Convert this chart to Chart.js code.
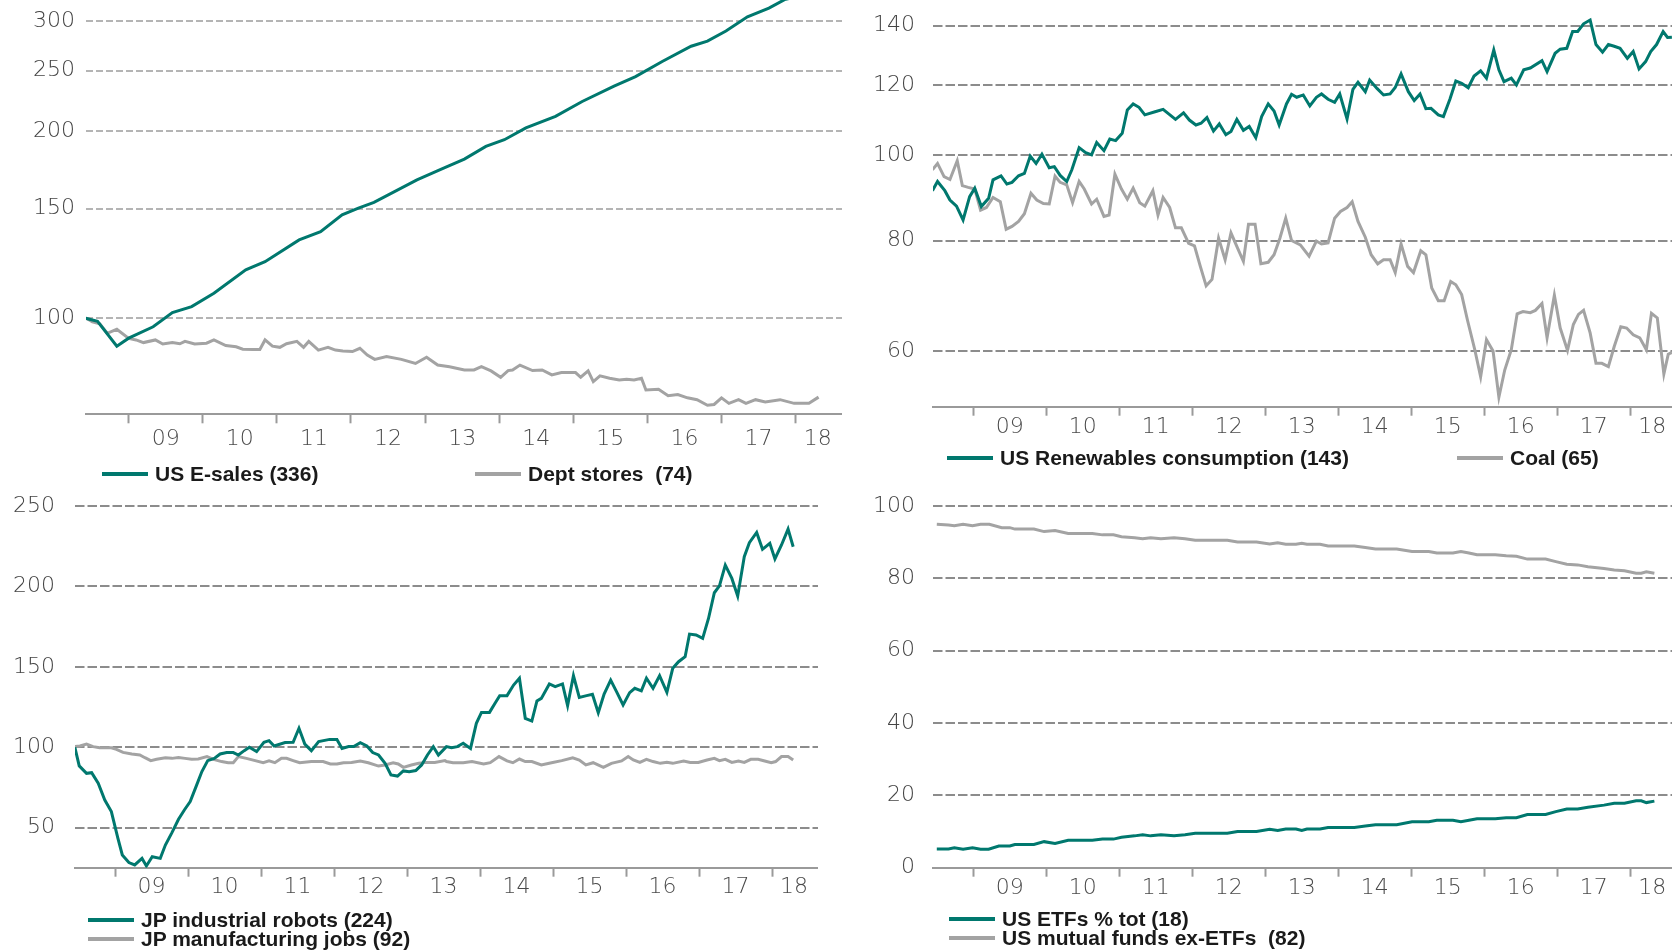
<!DOCTYPE html>
<html>
<head>
<meta charset="utf-8">
<script src="https://cdn.jsdelivr.net/npm/chart.js@4.4.0/dist/chart.umd.min.js"></script>
<style>
html, body { margin: 0; padding: 0; background: #fff; width: 1672px; height: 950px; overflow: hidden; }
canvas { position: absolute; }
.legend { position: absolute; font: bold 21px "Liberation Sans", Arial, sans-serif; color: #1a1a1a; white-space: pre; }
.legend .item { display: flex; align-items: center; height: 19px; }
.legend .swatch { display: inline-block; width: 46px; height: 4px; margin-right: 7px; }
.row { display: flex; }
#l1 .item:first-child { width: 373px; }
#l2 .item:first-child { width: 510px; }
</style>
</head>
<body>
<canvas id="c1" width="842" height="460" style="left:0;top:0"></canvas>
<canvas id="c2" width="844" height="450" style="left:846px;top:0"></canvas>
<canvas id="c3" width="818" height="430" style="left:0;top:480px"></canvas>
<canvas id="c4" width="844" height="430" style="left:846px;top:480px"></canvas>
<div class="legend row" id="l1" style="left:102px;top:464px"></div>
<div class="legend row" id="l2" style="left:947px;top:448px"></div>
<div class="legend" id="l3" style="left:88px;top:910px"></div>
<div class="legend" id="l4" style="left:949px;top:909px"></div>
<script>
const teal = "#00786e";
const grey = "#a3a3a3";

// x axis: year boundaries get a tick mark, labels sit in the middle of each year
const yearMarks = [2009, 2010, 2011, 2012, 2013, 2014, 2015, 2016, 2017, 2018];
const labelAt = [2009.5, 2010.5, 2011.5, 2012.5, 2013.5, 2014.5, 2015.5, 2016.5, 2017.5, 2018.3];
const yearLabels = ["09", "10", "11", "12", "13", "14", "15", "16", "17", "18"];

// [date in years, value]
const eSales = [[2008.42,100],[2008.58,98.9],[2008.84,90.2],[2009.00,92.9],[2009.33,96.9],[2009.59,102.1],[2009.85,104.4],
  [2010.15,109.7],[2010.58,119.6],[2010.84,123.3],[2011.30,133.6],[2011.59,137.8],[2011.88,146.6],[2012.10,150.3],
  [2012.31,153.5],[2012.89,166.9],[2013.25,174.2],[2013.53,180.2],[2013.82,188.9],[2014.07,193.6],[2014.36,202.3],
  [2014.76,211],[2015.12,223],[2015.55,236],[2015.84,244.5],[2016.20,258.6],[2016.59,273.6],[2016.81,278.8],
  [2017.06,289.4],[2017.35,305],[2017.64,315],[2017.85,325],[2018.33,336]];
const deptStores = [[2008.43,100],[2008.51,98.7],[2008.61,98],[2008.71,94.6],[2008.84,96],[2009.00,92.8],[2009.10,92.3],
  [2009.20,91.4],[2009.36,92.3],[2009.46,90.9],[2009.59,91.4],[2009.69,91],[2009.76,91.8],[2009.89,90.9],[2010.05,91.2],
  [2010.15,92.3],[2010.31,90.4],[2010.45,90],[2010.54,89.2],[2010.68,89.1],[2010.77,89.1],[2010.84,92.3],[2010.94,90.2],
  [2011.04,89.8],[2011.13,91],[2011.27,91.8],[2011.36,89.8],[2011.43,91.8],[2011.56,88.9],[2011.69,89.8],[2011.79,88.9],
  [2011.89,88.6],[2012.02,88.4],[2012.12,89.5],[2012.22,87.3],[2012.32,85.9],[2012.48,86.8],[2012.68,85.9],[2012.87,84.6],
  [2013.02,86.6],[2013.17,84.1],[2013.33,83.6],[2013.53,82.6],[2013.66,82.6],[2013.76,83.6],[2013.89,82.3],[2014.02,80.4],
  [2014.12,82.4],[2014.18,82.6],[2014.28,84.1],[2014.45,82.4],[2014.58,82.6],[2014.71,81.1],[2014.84,81.8],[2015.03,81.8],
  [2015.10,80.4],[2015.20,82.3],[2015.27,79.1],[2015.36,80.8],[2015.49,80.1],[2015.62,79.6],[2015.72,79.8],[2015.82,79.6],
  [2015.92,80.1],[2015.98,76.7],[2016.15,76.9],[2016.28,75.1],[2016.41,75.4],[2016.54,74.5],[2016.67,74],[2016.81,72.5],
  [2016.90,72.7],[2017.00,74.5],[2017.10,73],[2017.23,74],[2017.33,73],[2017.46,74],[2017.59,73.4],[2017.79,74],
  [2017.98,73],[2018.18,73],[2018.31,74.7]];

const renewables = [[2008.44,91.1],[2008.51,93.3],[2008.61,91.1],[2008.68,88.9],[2008.77,87.5],[2008.86,84.4],[2008.95,89.7],
  [2009.02,91.7],[2009.11,87.4],[2009.21,89.3],[2009.27,93.7],[2009.38,94.7],[2009.46,92.7],[2009.53,93.1],[2009.62,94.7],
  [2009.70,95.3],[2009.78,99.7],[2009.86,97.8],[2009.94,100.2],[2010.04,96.7],[2010.11,97.0],[2010.19,94.8],[2010.28,93.3],
  [2010.35,96.2],[2010.45,101.9],[2010.54,100.6],[2010.62,100],[2010.69,103.3],[2010.79,101.1],[2010.87,104.2],[2010.95,103.8],
  [2011.04,105.8],[2011.11,112.4],[2011.19,114.2],[2011.27,113.2],[2011.35,111.0],[2011.49,111.9],[2011.60,112.6],[2011.77,109.7],
  [2011.88,111.6],[2011.96,109.5],[2012.05,108.1],[2012.12,108.6],[2012.20,110.2],[2012.29,106.4],[2012.37,108.4],[2012.46,105.4],
  [2012.53,106.3],[2012.61,109.7],[2012.70,106.6],[2012.78,107.7],[2012.87,104.6],[2012.95,110.5],[2013.04,114.2],[2013.12,112.1],
  [2013.19,108.1],[2013.29,114.2],[2013.36,117.1],[2013.43,116.2],[2013.52,116.9],[2013.61,113.6],[2013.70,116.2],[2013.77,117.2],
  [2013.86,115.6],[2013.95,114.7],[2014.02,117.2],[2014.12,109.8],[2014.20,118.6],[2014.27,120.8],[2014.37,117.9],[2014.43,121.5],
  [2014.53,118.9],[2014.62,116.9],[2014.71,117.2],[2014.78,119.2],[2014.86,123.5],[2014.96,117.9],[2015.04,115.2],[2015.12,117.2],
  [2015.20,112.8],[2015.27,112.9],[2015.37,111.0],[2015.44,110.5],[2015.53,115.7],[2015.61,121.2],[2015.69,120.5],[2015.78,119.1],
  [2015.86,122.8],[2015.95,124.5],[2016.03,122.1],[2016.13,131.4],[2016.20,124.8],[2016.27,121.0],[2016.37,122.1],[2016.44,120.0],
  [2016.54,124.8],[2016.63,125.4],[2016.79,127.8],[2016.86,124.2],[2016.97,130.3],[2017.04,131.7],[2017.13,132.0],[2017.21,137.9],
  [2017.28,137.9],[2017.36,140.7],[2017.45,142.1],[2017.53,133.3],[2017.62,130.7],[2017.70,133.3],[2017.78,132.7],[2017.86,132.0],
  [2017.96,128.6],[2018.04,130.9],[2018.12,125.1],[2018.21,127.5],[2018.28,130.9],[2018.36,133.3],[2018.45,137.9],[2018.51,135.8],
  [2018.57,135.9]];
const coal = [[2008.44,96.2],[2008.51,97.8],[2008.60,94.5],[2008.68,93.8],[2008.78,98.5],[2008.85,92.3],[2008.93,91.9],
  [2009.02,91.5],[2009.10,86.6],[2009.18,87.2],[2009.27,89.5],[2009.37,88.5],[2009.45,82.4],[2009.53,83.0],[2009.62,84.1],
  [2009.70,85.8],[2009.79,90.5],[2009.87,88.9],[2009.96,88.1],[2010.04,88.0],[2010.12,94.6],[2010.19,93.1],[2010.28,92.5],
  [2010.36,88.3],[2010.45,93.3],[2010.52,91.5],[2010.62,88.0],[2010.69,89.1],[2010.79,85.2],[2010.86,85.5],[2010.94,95.1],
  [2011.03,91.5],[2011.11,89.1],[2011.19,91.7],[2011.28,88.3],[2011.35,87.5],[2011.46,91.1],[2011.53,85.5],[2011.60,89.5],
  [2011.69,87.2],[2011.77,82.7],[2011.85,82.7],[2011.95,79.4],[2012.03,78.9],[2012.11,74.8],[2012.19,71.1],[2012.27,72.3],
  [2012.36,80.5],[2012.45,76.1],[2012.53,81.6],[2012.61,78.8],[2012.70,75.8],[2012.77,83.5],[2012.86,83.5],[2012.94,75.3],
  [2013.04,75.6],[2013.12,77.1],[2013.20,80.5],[2013.28,84.8],[2013.36,80.0],[2013.48,79.1],[2013.60,76.8],[2013.70,79.9],
  [2013.77,79.3],[2013.86,79.5],[2013.95,84.8],[2014.03,86.3],[2014.12,87.2],[2014.19,88.5],[2014.27,84.1],[2014.37,80.7],
  [2014.45,77.1],[2014.54,75.3],[2014.62,76.1],[2014.71,76.1],[2014.78,73.6],[2014.86,79.3],[2014.95,74.8],[2015.03,73.6],
  [2015.13,77.9],[2015.20,77.1],[2015.28,70.7],[2015.37,68.4],[2015.45,68.4],[2015.54,71.9],[2015.61,71.3],[2015.69,69.5],
  [2015.77,65.0],[2015.87,60.2],[2015.95,56.1],[2016.03,61.8],[2016.12,60.0],[2016.20,53.2],[2016.28,57.1],[2016.37,60.2],
  [2016.45,66.1],[2016.53,66.5],[2016.63,66.3],[2016.70,66.7],[2016.79,67.9],[2016.86,62.1],[2016.96,69.4],[2017.04,63.7],
  [2017.14,60.1],[2017.22,64.3],[2017.29,66.0],[2017.36,66.7],[2017.45,62.9],[2017.53,58.1],[2017.61,58.1],[2017.70,57.6],
  [2017.78,60.7],[2017.87,63.9],[2017.95,63.7],[2018.04,62.6],[2018.13,62.1],[2018.22,60.2],[2018.29,66.2],[2018.37,65.4],
  [2018.46,56.5],[2018.52,59.5],[2018.57,59.8]];

const robots = [[2008.45,100.0],[2008.51,88.4],[2008.61,83.8],[2008.68,84.2],[2008.77,77.6],[2008.86,67.2],[2008.95,60.0],
  [2009.04,43.4],[2009.10,33.0],[2009.19,28.3],[2009.27,26.8],[2009.37,30.9],[2009.43,26.2],[2009.51,31.9],[2009.62,30.9],
  [2009.69,39.2],[2009.78,46.9],[2009.87,55.2],[2009.95,61.0],[2010.03,66.2],[2010.11,75.5],[2010.19,84.9],[2010.27,91.7],
  [2010.36,93.1],[2010.44,95.8],[2010.53,96.7],[2010.62,96.7],[2010.69,95.2],[2010.77,97.9],[2010.84,100.0],[2010.94,97.3],
  [2011.04,103.1],[2011.11,104.1],[2011.18,100.8],[2011.33,102.9],[2011.44,103.1],[2011.52,111.8],[2011.60,102.0],[2011.69,97.9],
  [2011.79,103.5],[2011.94,104.9],[2012.04,104.9],[2012.11,99.3],[2012.20,100.4],[2012.27,100.4],[2012.36,102.9],[2012.45,100.8],
  [2012.53,96.7],[2012.61,95.2],[2012.70,90.0],[2012.78,82.8],[2012.87,82.1],[2012.95,85.3],[2013.03,84.8],[2013.12,85.5],
  [2013.20,89.0],[2013.28,95.2],[2013.36,100.4],[2013.43,95.2],[2013.54,100.4],[2013.61,99.7],[2013.69,100.4],[2013.77,102.5],
  [2013.87,99.3],[2013.95,114.9],[2014.02,121.7],[2014.13,121.7],[2014.21,127.7],[2014.27,132.1],[2014.37,132.1],[2014.46,138.7],
  [2014.54,142.9],[2014.62,118.0],[2014.71,116.3],[2014.78,128.8],[2014.84,130.4],[2014.95,139.4],[2015.03,137.7],[2015.13,139.4],
  [2015.20,125.9],[2015.28,144.5],[2015.36,131.0],[2015.46,132.1],[2015.54,132.9],[2015.62,121.5],[2015.70,133.1],[2015.79,141.8],
  [2015.87,134.6],[2015.96,126.3],[2016.05,134.0],[2016.12,136.7],[2016.21,135.1],[2016.28,142.9],[2016.37,136.7],[2016.46,144.5],
  [2016.56,134.2],[2016.64,149.1],[2016.72,153.2],[2016.81,156.3],[2016.87,170.4],[2016.96,169.8],[2017.05,167.7],[2017.13,180.1],
  [2017.21,196.1],[2017.28,200.4],[2017.36,213.3],[2017.45,205.0],[2017.53,194.0],[2017.62,218.5],[2017.69,227.2],[2017.79,233.6],
  [2017.87,223.1],[2017.97,226.8],[2018.04,217.1],[2018.13,225.8],[2018.22,235.7],[2018.29,224.7]];
const mfgJobs = [[2008.45,100.4],[2008.52,100.8],[2008.61,102.0],[2008.70,100.4],[2008.79,99.7],[2008.95,99.7],[2009.02,98.7],
  [2009.11,96.8],[2009.23,95.8],[2009.34,95.2],[2009.41,93.5],[2009.49,91.7],[2009.57,92.5],[2009.69,93.5],[2009.78,93.1],
  [2009.87,93.7],[2009.96,93.1],[2010.05,92.5],[2010.14,92.7],[2010.26,94.2],[2010.35,92.5],[2010.46,91.1],[2010.55,90.4],
  [2010.62,90.4],[2010.69,94.2],[2010.80,93.1],[2010.92,91.7],[2011.03,90.4],[2011.11,91.5],[2011.19,90.4],[2011.28,93.1],
  [2011.35,93.1],[2011.44,91.7],[2011.53,90.4],[2011.69,91.1],[2011.85,91.1],[2011.95,89.6],[2012.04,89.6],[2012.13,90.4],
  [2012.24,90.6],[2012.36,91.5],[2012.47,90.4],[2012.61,88.3],[2012.70,89.0],[2012.81,90.4],[2012.88,89.6],[2012.95,87.5],
  [2013.06,89.0],[2013.16,90.0],[2013.27,90.6],[2013.38,90.6],[2013.52,91.7],[2013.54,91.1],[2013.63,90.4],[2013.77,90.4],
  [2013.89,91.1],[2014.05,89.6],[2014.14,90.4],[2014.26,94.2],[2014.37,91.5],[2014.45,90.4],[2014.54,92.7],[2014.62,91.1],
  [2014.71,91.1],[2014.84,89.0],[2014.98,90.4],[2015.12,91.7],[2015.27,93.5],[2015.36,92.1],[2015.45,89.0],[2015.55,90.4],
  [2015.69,87.5],[2015.80,90.0],[2015.94,91.5],[2016.03,94.2],[2016.10,92.1],[2016.19,90.6],[2016.28,92.5],[2016.37,91.1],
  [2016.47,90.0],[2016.56,90.6],[2016.64,90.0],[2016.79,91.5],[2016.88,90.6],[2016.99,90.6],[2017.11,92.1],[2017.21,93.1],
  [2017.28,91.7],[2017.36,92.5],[2017.45,90.6],[2017.54,91.5],[2017.62,90.6],[2017.71,92.5],[2017.81,92.5],[2017.90,91.5],
  [2017.99,90.4],[2018.05,91.1],[2018.13,94.2],[2018.22,94.2],[2018.29,92.1]];

const etfShare = [[2008.50,5.2],[2008.66,5.2],[2008.74,5.5],[2008.86,5.1],[2008.99,5.5],[2009.10,5.1],[2009.21,5.1],
  [2009.35,6.0],[2009.50,6.0],[2009.57,6.4],[2009.83,6.4],[2009.97,7.2],[2010.12,6.7],[2010.30,7.6],[2010.63,7.6],
  [2010.77,7.9],[2010.92,7.9],[2011.03,8.4],[2011.21,8.8],[2011.32,9.1],[2011.43,8.8],[2011.57,9.1],[2011.75,8.8],
  [2011.90,9.1],[2012.04,9.5],[2012.48,9.5],[2012.62,10.0],[2012.88,10.0],[2013.06,10.6],[2013.17,10.3],[2013.28,10.7],
  [2013.42,10.7],[2013.50,10.3],[2013.57,10.7],[2013.75,10.7],[2013.86,11.1],[2014.22,11.1],[2014.37,11.5],[2014.51,11.9],
  [2014.80,11.9],[2015.01,12.7],[2015.24,12.7],[2015.35,13.1],[2015.57,13.1],[2015.68,12.7],[2015.79,13.1],[2015.90,13.5],
  [2016.15,13.5],[2016.30,13.8],[2016.44,13.8],[2016.59,14.7],[2016.84,14.7],[2016.98,15.5],[2017.13,16.2],[2017.28,16.2],
  [2017.42,16.7],[2017.64,17.3],[2017.78,17.8],[2017.92,17.8],[2018.08,18.5],[2018.15,18.5],[2018.22,18.0],[2018.33,18.4]];
const mutualFunds = [[2008.50,94.9],[2008.66,94.7],[2008.74,94.5],[2008.86,94.9],[2008.99,94.5],[2009.10,94.9],[2009.22,94.9],
  [2009.39,94.0],[2009.50,94.0],[2009.57,93.6],[2009.83,93.6],[2009.97,92.9],[2010.12,93.2],[2010.30,92.4],[2010.63,92.4],
  [2010.77,92.0],[2010.92,92.0],[2011.03,91.5],[2011.21,91.2],[2011.32,90.9],[2011.43,91.2],[2011.57,90.9],[2011.75,91.2],
  [2011.90,90.9],[2012.04,90.5],[2012.48,90.5],[2012.62,90.0],[2012.88,90.0],[2013.06,89.5],[2013.17,89.8],[2013.28,89.4],
  [2013.42,89.4],[2013.50,89.7],[2013.57,89.4],[2013.75,89.4],[2013.86,88.9],[2014.22,88.9],[2014.37,88.5],[2014.51,88.1],
  [2014.80,88.1],[2015.01,87.4],[2015.24,87.4],[2015.35,87.0],[2015.57,87.0],[2015.68,87.4],[2015.79,87.0],[2015.90,86.5],
  [2016.15,86.5],[2016.30,86.2],[2016.44,86.1],[2016.59,85.3],[2016.84,85.3],[2016.98,84.6],[2017.13,83.9],[2017.28,83.7],
  [2017.42,83.2],[2017.64,82.7],[2017.78,82.3],[2017.92,82.1],[2018.08,81.4],[2018.15,81.4],[2018.22,81.8],[2018.33,81.4]];

const ticks1 = [100, 150, 200, 250, 300];
const ticks2 = [60, 80, 100, 120, 140];
const ticks3 = [50, 100, 150, 200, 250];
const ticks4 = [0, 20, 40, 60, 80, 100];

const tickFont = { family: "DejaVu Sans", size: 22, weight: "200", lineHeight: 1 };

function series(label, pts, color) {
  return {
    label: label,
    data: pts.map(p => ({ x: p[0], y: p[1] })),
    borderColor: color,
    backgroundColor: color,
    borderWidth: 3,
    pointRadius: 0,
    tension: 0,
    fill: false
  };
}

function makeChart(id, o) {
  return new Chart(document.getElementById(id), {
    type: "line",
    data: { datasets: o.datasets },
    options: {
      responsive: false,
      animation: false,
      events: [],
      layout: { padding: { top: o.padTop, left: 0, right: 0, bottom: 0 } },
      plugins: { legend: { display: false }, tooltip: { enabled: false } },
      scales: {
        x: {
          type: "linear",
          min: o.xMin,
          max: o.xMax,
          afterBuildTicks: ax => {
            ax.ticks = yearMarks.concat(labelAt).sort((a, b) => a - b).map(v => ({ value: v }));
          },
          afterFit: ax => {
            ax.height = o.xH;
            ax.paddingLeft = 0;
            ax.paddingRight = 0;
          },
          grid: {
            drawOnChartArea: false,
            tickLength: 9,
            tickWidth: 2,
            tickColor: ctx => (ctx.tick && yearMarks.includes(ctx.tick.value)) ? "#9a9a9a" : "rgba(0,0,0,0)"
          },
          border: { display: true, color: "#9a9a9a", width: 2 },
          ticks: {
            autoSkip: false,
            maxRotation: 0,
            padding: o.xPad,
            color: "#4a4a4a",
            font: tickFont,
            callback: v => {
              const i = labelAt.indexOf(v);
              return i < 0 ? "" : yearLabels[i];
            }
          }
        },
        y: {
          type: o.yType,
          min: o.yMin,
          max: o.yMax,
          afterBuildTicks: ax => { ax.ticks = o.yTicks.map(v => ({ value: v })); },
          afterFit: ax => {
            ax.width = o.yW;
            ax.paddingTop = 0;
            ax.paddingBottom = 0;
          },
          grid: { color: o.gridColor, lineWidth: 2, drawTicks: false },
          border: { display: false, dash: o.gridDash },
          ticks: { padding: o.yPad, color: "#444", font: tickFont, callback: v => String(v) }
        }
      }
    }
  });
}

function buildLegend(chart, el) {
  chart.data.datasets.forEach(ds => {
    const item = document.createElement("div");
    item.className = "item";
    const sw = document.createElement("span");
    sw.className = "swatch";
    sw.style.background = ds.borderColor;
    const tx = document.createElement("span");
    tx.textContent = ds.label;
    item.append(sw, tx);
    el.append(item);
  });
}

const chart1 = makeChart("c1", {
  datasets: [series("US E-sales (336)", eSales, teal), series("Dept stores  (74)", deptStores, grey)],
  xMin: 2008.424, xMax: 2018.626, yType: "logarithmic", yMin: 70.1, yMax: 324.6, yTicks: ticks1,
  padTop: 0, xH: 45.7, yW: 86, yPad: 11, xPad: 5, gridColor: "#b4b4b4", gridDash: [7, 3]
});
const chart2 = makeChart("c2", {
  datasets: [series("US Renewables consumption (143)", renewables, teal), series("Coal (65)", coal, grey)],
  xMin: 2008.448, xMax: 2018.818, yType: "logarithmic", yMin: 51.9, yMax: 149.7, yTicks: ticks2,
  padTop: 0, xH: 43.3, yW: 87, yPad: 18, xPad: 1, gridColor: "#8c8c8c", gridDash: [9.5, 3]
});
const chart3 = makeChart("c3", {
  datasets: [series("JP industrial robots (224)", robots, teal), series("JP manufacturing jobs (92)", mfgJobs, grey)],
  xMin: 2008.452, xMax: 2018.63, yType: "linear", yMin: 25.1, yMax: 260, yTicks: ticks3,
  padTop: 10, xH: 42.3, yW: 75, yPad: 20, xPad: 0, gridColor: "#8c8c8c", gridDash: [9.5, 3]
});
const chart4 = makeChart("c4", {
  datasets: [series("US ETFs % tot (18)", etfShare, teal), series("US mutual funds ex-ETFs  (82)", mutualFunds, grey)],
  xMin: 2008.448, xMax: 2018.818, yType: "linear", yMin: 0, yMax: 104.4, yTicks: ticks4,
  padTop: 10, xH: 42.3, yW: 87, yPad: 18, xPad: 1, gridColor: "#8c8c8c", gridDash: [9.5, 3]
});

buildLegend(chart1, document.getElementById("l1"));
buildLegend(chart2, document.getElementById("l2"));
buildLegend(chart3, document.getElementById("l3"));
buildLegend(chart4, document.getElementById("l4"));
</script>
</body>
</html>
